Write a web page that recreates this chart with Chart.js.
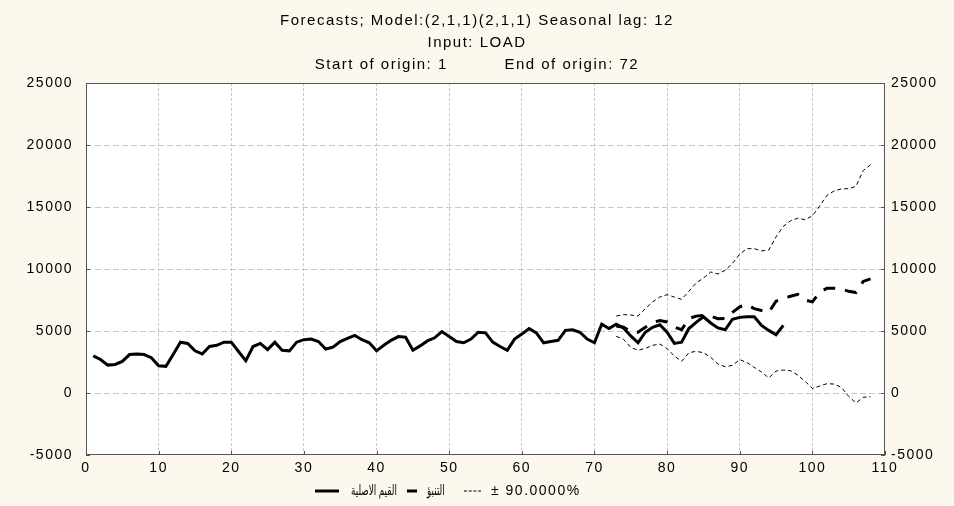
<!DOCTYPE html>
<html>
<head>
<meta charset="utf-8">
<title>Forecasts LOAD</title>
<script src="https://cdn.jsdelivr.net/npm/chart.js@4.4.1/dist/chart.umd.min.js"></script>
<style>
  html, body { margin: 0; padding: 0; background: #fdf8ed; }
  #wrap { position: relative; width: 954px; height: 506px; }
</style>
</head>
<body>
<div id="wrap"><canvas id="forecastChart"></canvas></div>
<script>
// observed load, periods 1..96
const observed = [
  3000, 2700, 2250, 2300, 2550, 3100, 3150, 3100, 2850, 2200,
  2150, 3100, 4100, 4000, 3400, 3150, 3750, 3850, 4100, 4100,
  3350, 2600, 3750, 4000, 3500, 4100, 3450, 3400, 4100, 4300,
  4350, 4150, 3550, 3700, 4150, 4400, 4650, 4300, 4050, 3400,
  3850, 4250, 4550, 4500, 3450, 3800, 4200, 4450, 4950, 4550,
  4150, 4050, 4350, 4900, 4850, 4100, 3750, 3450, 4350, 4750,
  5200, 4850, 4050, 4150, 4250, 5050, 5100, 4900, 4350, 4050,
  5550, 5200, 5550, 5250, 4600, 4050, 4900, 5300, 5500, 4900,
  4000, 4100, 5200, 5700, 6150, 5650, 5250, 5100, 5950, 6100,
  6150, 6150, 5450, 5050, 4700, 5450
];

// forecast and 90% limits, periods 73..108
const forecastStart = 73;
const forecast = [
  5400, 5300, 4950, 4900, 5300, 5680, 5850, 5730, 5320, 5100,
  6000, 6200, 6250, 6200, 5990, 6000, 6500, 6950, 7150, 6800,
  6650, 6500, 7400, 7650, 7800, 7950, 7500, 7350, 8100, 8450,
  8450, 8400, 8200, 8100, 9000, 9200
];
const upper90 = [
  6210, 6320, 6290, 6210, 6800, 7340, 7740, 7930, 7740, 7550,
  8200, 8870, 9270, 9760, 9600, 9900, 10450, 11200, 11640, 11640,
  11460, 11530, 12590, 13440, 13890, 14100, 13970, 14290, 15080, 15930,
  16300, 16460, 16480, 16670, 17940, 18400
];
const lower90 = [
  4570, 4330, 3680, 3440, 3600, 3840, 3950, 3580, 2980, 2550,
  3250, 3360, 3250, 2880, 2340, 2120, 2230, 2690, 2450, 2070,
  1690, 1210, 1770, 1850, 1800, 1440, 940, 370, 560, 750,
  720, 450, -270, -800, -350, -300
];

const xTicks = [0, 10, 20, 30, 40, 50, 60, 70, 80, 90, 100, 110];
const yTicks = [-5000, 0, 5000, 10000, 15000, 20000, 25000];

const titleLines = [
  'Forecasts; Model:(2,1,1)(2,1,1) Seasonal lag: 12',
  'Input: LOAD',
  'Start of origin: 1          End of origin: 72'
];
const seriesLabels = ['القيم الاصلية', 'التنبؤ', '± 90.0000%'];

const FONT_FAMILY = "'Liberation Sans', Arial, 'DejaVu Sans', sans-serif";
const SPACING = '1.5px';

const toPoints = (values, start) => values.map((v, i) => ({ x: start + i, y: v }));

// hide grid lines that sit on the frame
const gridColor = (ctx, lo, hi) =>
  (ctx.tick && (ctx.tick.value === lo || ctx.tick.value === hi)) ? 'rgba(0,0,0,0)' : '#c8c8c8';

// Windows-style wide text
const spacingPlugin = {
  id: 'spacing',
  beforeUpdate(chart) { chart.ctx.letterSpacing = SPACING; },
  beforeDraw(chart) { chart.ctx.letterSpacing = SPACING; }
};

// white plot area, frame and inward tick marks
const framePlugin = {
  id: 'frame',
  beforeDraw(chart) {
    const { ctx, chartArea: { left, top, width, height } } = chart;
    ctx.save();
    ctx.fillStyle = '#fff';
    ctx.fillRect(left, top, width, height);
    ctx.restore();
  },
  afterDraw(chart) {
    const { ctx, chartArea: { left, right, top, bottom }, scales: { x, y } } = chart;
    ctx.save();
    ctx.strokeStyle = '#555';
    ctx.lineWidth = 1;
    ctx.strokeRect(left + 0.5, top + 0.5, right - left - 1, bottom - top - 1);
    ctx.beginPath();
    yTicks.forEach(v => {
      const py = Math.round(y.getPixelForValue(v)) + 0.5;
      ctx.moveTo(left, py); ctx.lineTo(left + 4, py);
      ctx.moveTo(right, py); ctx.lineTo(right - 4, py);
    });
    xTicks.forEach(v => {
      const px = Math.round(x.getPixelForValue(v)) + 0.5;
      ctx.moveTo(px, bottom); ctx.lineTo(px, bottom - 4);
    });
    ctx.stroke();
    ctx.restore();
  }
};

// legend row under the axis: sample line span, dash pattern, text start
const legendEntries = [
  { dataset: 0, from: 315, to: 339, dash: [], textX: 351 },
  { dataset: 1, from: 407, to: 417, dash: [], textX: 427 },
  { dataset: 2, from: 464, to: 481, dash: [3, 1.7], textX: 491 }
];
const legendPlugin = {
  id: 'bottomLegend',
  afterDraw(chart) {
    const { ctx } = chart;
    const y = 491;
    ctx.save();
    ctx.textBaseline = 'middle';
    ctx.textAlign = 'left';
    ctx.fillStyle = '#000';
    legendEntries.forEach(entry => {
      const ds = chart.data.datasets[entry.dataset];
      ctx.strokeStyle = ds.borderColor;
      ctx.lineWidth = ds.borderWidth;
      ctx.setLineDash(entry.dash);
      ctx.beginPath();
      ctx.moveTo(entry.from, y);
      ctx.lineTo(entry.to, y);
      ctx.stroke();
      ctx.setLineDash([]);
      if (/[\u0600-\u06FF]/.test(ds.label)) {
        // Arabic labels: narrow face
        ctx.save();
        ctx.letterSpacing = '0px';
        ctx.font = '14px ' + FONT_FAMILY;
        ctx.translate(entry.textX, y);
        ctx.scale(0.63, 1);
        ctx.fillText(ds.label, 0, 0);
        ctx.restore();
      } else {
        ctx.letterSpacing = SPACING;
        ctx.font = '14px ' + FONT_FAMILY;
        ctx.fillText(ds.label, entry.textX, y);
      }
    });
    ctx.restore();
  }
};

const tickFont = { family: FONT_FAMILY, size: 14 };

const chart = new Chart(document.getElementById('forecastChart'), {
  type: 'line',
  data: {
    datasets: [
      {
        label: seriesLabels[0],
        data: toPoints(observed, 1),
        borderColor: '#000',
        borderWidth: 3,
        pointRadius: 0
      },
      {
        label: seriesLabels[1],
        data: toPoints(forecast, forecastStart),
        borderColor: '#000',
        borderWidth: 3,
        borderDash: [12, 10],
        pointRadius: 0
      },
      {
        label: seriesLabels[2],
        data: toPoints(upper90, forecastStart),
        borderColor: '#000',
        borderWidth: 1,
        borderDash: [4, 3],
        pointRadius: 0
      },
      {
        label: seriesLabels[2],
        data: toPoints(lower90, forecastStart),
        borderColor: '#000',
        borderWidth: 1,
        borderDash: [4, 3],
        pointRadius: 0
      }
    ]
  },
  options: {
    responsive: true,
    maintainAspectRatio: false,
    animation: false,
    layout: { padding: { top: 0, left: 0, right: 0, bottom: 27 } },
    plugins: {
      legend: { display: false },
      tooltip: { enabled: false },
      title: {
        display: true,
        text: titleLines,
        color: '#000',
        font: { family: FONT_FAMILY, size: 15, weight: 'normal', lineHeight: 22 / 15 },
        padding: { top: 10, bottom: 7 }
      }
    },
    scales: {
      x: {
        type: 'linear',
        min: 0,
        max: 110,
        afterBuildTicks: s => { s.ticks = xTicks.map(v => ({ value: v })); },
        afterFit: s => { s.height = 24; },
        grid: { color: ctx => gridColor(ctx, 0, 110), drawTicks: false },
        border: { display: false, dash: [3, 2] },
        ticks: { color: '#000', font: tickFont, padding: 5, maxRotation: 0, autoSkip: false }
      },
      y: {
        position: 'left',
        min: -5000,
        max: 25000,
        afterBuildTicks: s => { s.ticks = yTicks.map(v => ({ value: v })); },
        afterFit: s => { s.width = 86; },
        grid: { color: ctx => gridColor(ctx, -5000, 25000), drawTicks: false },
        border: { display: false, dash: [6, 3] },
        ticks: { color: '#000', font: tickFont, padding: 13, callback: v => String(v) }
      },
      y2: {
        position: 'right',
        min: -5000,
        max: 25000,
        afterBuildTicks: s => { s.ticks = yTicks.map(v => ({ value: v })); },
        afterFit: s => { s.width = 69; },
        grid: { drawOnChartArea: false, drawTicks: false },
        border: { display: false },
        ticks: { color: '#000', font: tickFont, padding: 6, callback: v => String(v) }
      }
    }
  },
  plugins: [spacingPlugin, framePlugin, legendPlugin]
});
</script>
</body>
</html>
